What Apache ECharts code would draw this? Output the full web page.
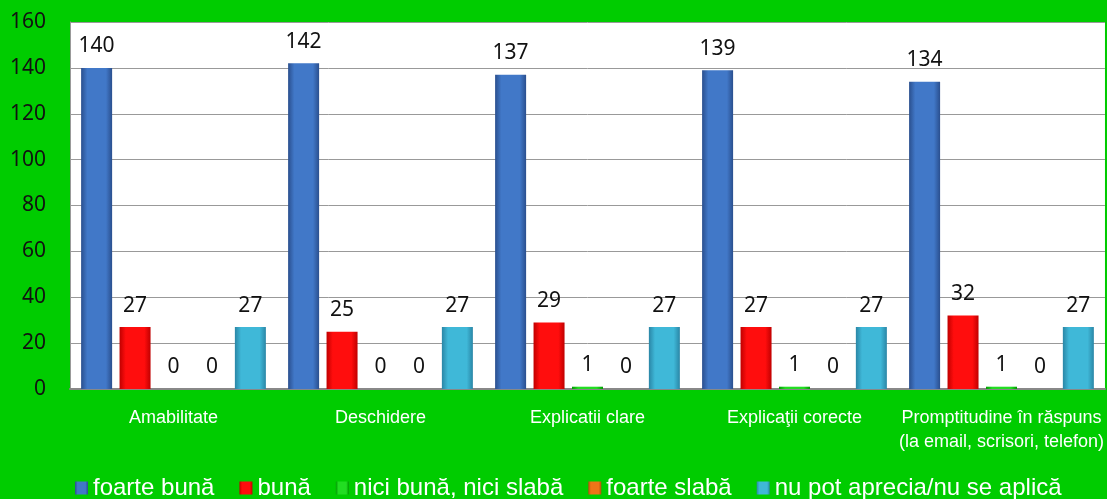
<!DOCTYPE html>
<html>
<head>
<meta charset="utf-8">
<script src="https://cdn.jsdelivr.net/npm/echarts@6/dist/echarts.min.js"></script>
<style>
  html, body { margin: 0; padding: 0; background: #00cc00; }
  #chart { width: 1107px; height: 499px; }
</style>
</head>
<body>
<div id="chart"></div>
<script>
// categorii si valori
var categories = ['Amabilitate', 'Deschidere', 'Explicatii clare', 'Explicaţii corecte', 'Promptitudine în răspuns\n(la email, scrisori, telefon)'];
var seriesNames = ['foarte bună', 'bună', 'nici bună, nici slabă', 'foarte slabă', 'nu pot aprecia/nu se aplică'];
var foarteBuna = [140, 142, 137, 139, 134];
var buna = [27, 25, 29, 27, 32];
var niciBuna = [0, 0, 1, 1, 1];
var foarteSlaba = [0, 0, 0, 0, 0];
var nuPot = [27, 27, 27, 27, 27];
var yTicks = [0, 20, 40, 60, 80, 100, 120, 140, 160];

// culori (margine, centru)
var colors = [
    ['#2a4f8e', '#4178c8'],
    ['#c00000', '#ff0d0d'],
    ['#009a00', '#22dd22'],
    ['#b0500a', '#ee7518'],
    ['#2a86a6', '#3fb8d8']
];

function grad(c) {
    return new echarts.graphic.LinearGradient(0, 0, 1, 0, [
        {offset: 0, color: c[0]},
        {offset: 0.2, color: c[1]},
        {offset: 0.8, color: c[1]},
        {offset: 1, color: c[0]}
    ]);
}

var allData = [foarteBuna, buna, niciBuna, foarteSlaba, nuPot];
var series = [];
for (var i = 0; i < allData.length; i++) {
    series.push({
        name: seriesNames[i],
        type: 'bar',
        data: allData[i],
        barWidth: 31,
        barGap: '24%',
        itemStyle: {
            color: grad(colors[i])
        },
        label: {
            show: true,
            position: 'top',
            distance: 11,
            color: '#111',
            fontFamily: 'Noto Sans',
            fontSize: 21
        }
    });
}

var chart = echarts.init(document.getElementById('chart'));
chart.setOption({
    backgroundColor: '#00cc00',
    animation: false,
    color: colors.map(function (c) { return c[1]; }),
    grid: {
        left: 70, right: 2, top: 22, bottom: 110,
        show: true,
        backgroundColor: '#fff',
        borderWidth: 0
    },
    legend: {
        bottom: -6,
        left: 70,
        itemWidth: 13,
        itemHeight: 13,
        itemGap: 25,
        icon: 'rect',
        textStyle: {
            color: '#fff',
            fontFamily: 'Liberation Sans',
            fontSize: 24,
            padding: [0, 0, 0, 0]
        },
        data: seriesNames
    },
    xAxis: {
        type: 'category',
        data: categories,
        axisTick: {show: false},
        axisLine: {lineStyle: {color: '#888', width: 2}},
        axisLabel: {
            color: '#fff',
            fontFamily: 'Liberation Sans',
            fontSize: 18,
            margin: 17,
            lineHeight: 24,
            interval: 0
        }
    },
    yAxis: {
        type: 'value',
        min: yTicks[0],
        max: yTicks[yTicks.length - 1],
        interval: 20,
        axisLine: {show: true, lineStyle: {color: '#999'}},
        axisTick: {show: false},
        splitLine: {lineStyle: {color: '#999', width: 1}},
        axisLabel: {
            color: '#111',
            fontFamily: 'Noto Sans',
            fontSize: 21,
            margin: 24
        }
    },
    series: series
});
</script>
</body>
</html>
